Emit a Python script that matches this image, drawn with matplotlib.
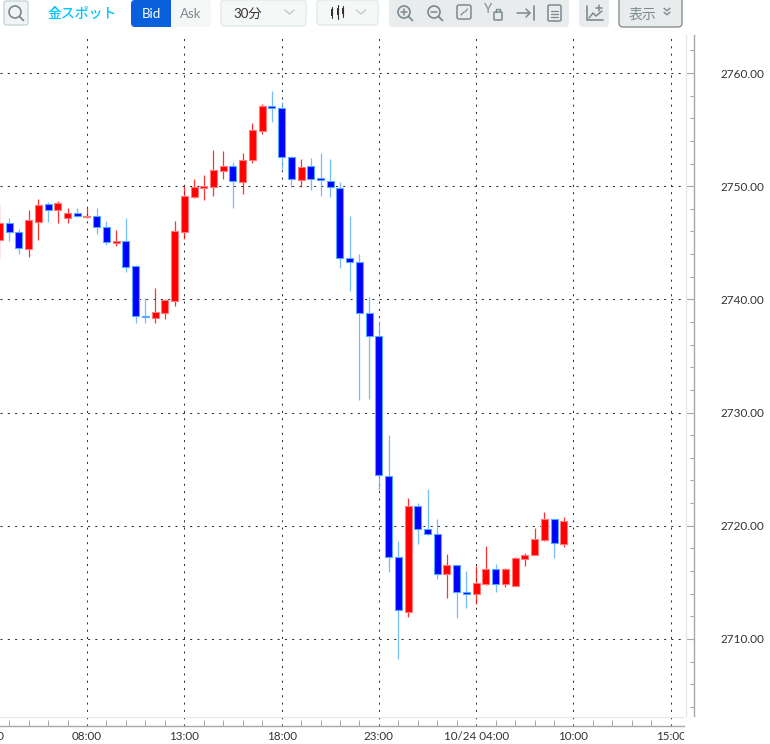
import matplotlib
matplotlib.use('Agg')
import matplotlib.pyplot as plt
from matplotlib.patches import FancyBboxPatch, Circle, Rectangle
from matplotlib.ticker import FixedLocator, NullFormatter

plt.rcParams['font.family'] = ['Lato', 'Noto Sans CJK JP', 'DejaVu Sans']

# 30 minute candles
opens = [2745.25, 2746.72, 2745.93, 2744.48, 2746.84, 2748.40, 2747.87, 2747.16, 2747.60, 2747.28,
         2747.34, 2746.43, 2745.02, 2745.13, 2742.93, 2738.55, 2738.37, 2738.84, 2739.90, 2745.99,
         2749.08, 2749.87, 2749.96, 2751.34, 2751.76, 2750.37, 2752.34, 2754.88, 2757.06, 2756.88,
         2752.55, 2750.58, 2751.76, 2750.70, 2750.49, 2749.81, 2743.66, 2743.28, 2738.77, 2736.77,
         2724.43, 2717.22, 2712.42, 2721.75, 2719.75, 2719.28, 2715.77, 2716.54, 2714.18, 2713.95,
         2714.89, 2716.15, 2714.83, 2714.71, 2717.04, 2717.39, 2718.72, 2720.63, 2718.42]
closes = [2746.78, 2745.93, 2744.54, 2747.04, 2748.34, 2747.93, 2748.49, 2747.66, 2747.34, 2747.37,
          2746.43, 2745.04, 2745.16, 2742.87, 2738.55, 2738.43, 2738.90, 2739.96, 2746.05, 2749.17,
          2749.93, 2750.05, 2751.43, 2751.78, 2750.49, 2752.31, 2754.96, 2757.11, 2756.88, 2752.55,
          2750.61, 2751.70, 2750.67, 2750.52, 2749.90, 2743.66, 2743.28, 2738.77, 2736.80, 2724.46,
          2717.22, 2712.59, 2721.75, 2719.75, 2719.28, 2715.71, 2716.57, 2714.12, 2714.01, 2714.95,
          2716.15, 2714.83, 2716.15, 2717.13, 2717.39, 2718.81, 2720.63, 2718.48, 2720.40]
highs = [2748.34, 2747.22, 2746.19, 2747.90, 2748.84, 2748.60, 2748.69, 2748.07, 2748.07, 2748.04,
         2748.04, 2746.93, 2746.13, 2747.16, 2743.07, 2740.11, 2741.05, 2740.02, 2746.96, 2750.02,
         2750.61, 2750.99, 2753.17, 2753.14, 2752.11, 2752.90, 2755.55, 2757.23, 2758.41, 2757.47,
         2752.70, 2752.37, 2752.49, 2752.90, 2752.37, 2750.40, 2747.37, 2743.98, 2740.18, 2738.09,
         2727.99, 2718.66, 2722.43, 2721.99, 2723.22, 2720.57, 2717.51, 2716.57, 2716.01, 2716.45,
         2718.22, 2716.63, 2716.24, 2717.27, 2717.60, 2719.78, 2721.25, 2720.63, 2720.78]
lows = [2743.54, 2745.16, 2744.01, 2743.72, 2745.25, 2746.87, 2746.78, 2746.78, 2747.25, 2747.16,
        2745.78, 2744.84, 2744.72, 2742.43, 2737.90, 2737.90, 2737.90, 2738.25, 2739.43, 2745.31,
        2748.93, 2748.75, 2749.16, 2750.64, 2748.10, 2749.28, 2752.02, 2754.64, 2755.70, 2751.46,
        2749.90, 2749.96, 2749.66, 2749.16, 2749.08, 2742.81, 2740.75, 2731.12, 2731.17, 2723.16,
        2715.89, 2708.20, 2711.97, 2718.42, 2719.20, 2715.33, 2713.62, 2711.89, 2712.71, 2713.09,
        2714.74, 2714.12, 2714.62, 2714.71, 2716.48, 2717.39, 2718.69, 2717.19, 2718.16]

time_ticks = [9, 19, 29, 39, 49, 59, 69]
time_labels = ['08:00', '13:00', '18:00', '23:00', '10/24 04:00', '10:00', '15:00']
first_time_tick, first_time_label = -1, '03:00'  # only its last digit shows at the left edge
minor_time_ticks = [i for i in range(1, 70, 2) if i not in time_ticks]
price_ticks = [2710, 2720, 2730, 2740, 2750, 2760]
minor_price_ticks = [p for p in range(2704, 2764, 2) if p not in price_ticks]

W, H = 770, 744
RED, BLUE = '#ff0000', '#0000ff'
RED_EDGE, BLUE_EDGE = '#ff7a7a', '#55aaff'
TXT = '#333333'
AXC = '#a8a8a8'
ICON = '#7d8a8f'

fig = plt.figure(figsize=(W / 100, H / 100), dpi=100, facecolor='white')

# chart axes: x 0..684 px, y 35..726 px
ax = fig.add_axes([0, (H - 726) / H, 684 / W, (726 - 35) / H])
ax.set_xlim(0.059, 70.36)
ax.set_ylim(2702.31, 2763.36)
ax.set_zorder(2)

for s in ['top', 'left']:
    ax.spines[s].set_visible(False)
ax.spines['bottom'].set_color(AXC)
ax.spines['bottom'].set_linewidth(1.0)
ax.spines['right'].set_position(('outward', 7.2))
ax.spines['right'].set_color(AXC)
ax.spines['right'].set_linewidth(1.0)
ax.spines['right'].set_bounds(2703.2, 2763.36)

ax.yaxis.tick_right()
ax.xaxis.set_major_locator(FixedLocator(time_ticks))
ax.set_xticklabels(time_labels)
ax.xaxis.set_minor_locator(FixedLocator(minor_time_ticks))
ax.xaxis.set_minor_formatter(NullFormatter())
ax.yaxis.set_major_locator(FixedLocator(price_ticks))
ax.set_yticklabels(['%.2f' % p for p in price_ticks])
ax.yaxis.set_minor_locator(FixedLocator(minor_price_ticks))
ax.yaxis.set_minor_formatter(NullFormatter())
ax.tick_params(axis='x', which='major', direction='in', length=0, pad=3.5, labelsize=8.4, labelcolor=TXT)
ax.tick_params(axis='x', which='minor', direction='in', length=4, width=0.7, color=AXC)
ax.tick_params(axis='y', which='major', direction='in', length=6, width=0.8, color=AXC, pad=19,
               labelsize=8.5, labelcolor=TXT)
ax.tick_params(axis='y', which='minor', direction='in', length=3, width=0.8, color=AXC)

for lab in ax.get_yticklabels():
    lab.set_verticalalignment('center_baseline')

# x labels are cut at the end of the time axis
clip = Rectangle((0, 0), 684, 40, transform=None)
for lab in ax.get_xticklabels():
    lab.set_clip_on(True)
    lab.set_clip_path(clip)

ax.annotate(first_time_label, (first_time_tick, 0), xycoords=ax.get_xaxis_transform(), xytext=(0, -3.5),
            textcoords='offset points', ha='center', va='top', fontsize=8.4, color=TXT,
            annotation_clip=False)

ax.grid(True, which='major', color='#333333', linewidth=0.75, linestyle=(0, (2, 5)), zorder=1)
ax.set_axisbelow(True)
ax.axhline(2703.1, color='#e8e8e8', linewidth=0.9, zorder=1)

xs = list(range(len(opens)))
for i in xs:
    up = closes[i] >= opens[i]
    body = RED if up else BLUE
    edge = RED_EDGE if up else BLUE_EDGE
    ax.vlines(i, lows[i], highs[i], color=RED if up else BLUE_EDGE, linewidth=0.9, alpha=0.8, zorder=3)
    ax.bar(i, abs(closes[i] - opens[i]), bottom=min(opens[i], closes[i]), width=0.72,
           color=body, edgecolor=edge, linewidth=0.8, zorder=4)

# toolbar and the light separator, drawn in pixel coordinates
top = fig.add_axes([0, 0, 1, 1], facecolor='none')
top.set_xlim(0, W)
top.set_ylim(H, 0)
top.axis('off')
top.set_zorder(3)


def box(x0, y0, x1, y1, face, edge='none', lw=1.0, r=4):
    p = FancyBboxPatch((x0 + r, y0 + r), x1 - x0 - 2 * r, y1 - y0 - 2 * r,
                       boxstyle='round,pad=%g,rounding_size=%g' % (r, r),
                       facecolor=face, edgecolor=edge, linewidth=lw)
    top.add_patch(p)


def stroke(xs, ys, color=ICON, lw=1.1):
    top.plot(xs, ys, color=color, linewidth=lw, solid_capstyle='round')


def chevron(cx, cy, color='#c4c9cb', w=4.5, h=4):
    stroke([cx - w, cx, cx + w], [cy - h / 2, cy + h / 2, cy - h / 2], color=color, lw=1.0)


def lens(cx, cy, sign=None):
    top.add_patch(Circle((cx, cy), 6, facecolor='none', edgecolor=ICON, linewidth=1.2))
    stroke([cx + 4.5, cx + 8.5], [cy + 4.5, cy + 8.5], lw=1.3)
    if sign:
        stroke([cx - 3, cx + 3], [cy, cy], lw=1.1)
    if sign == '+':
        stroke([cx, cx], [cy - 3, cy + 3], lw=1.1)


top.plot([686, 686], [35, 716], color='#e6e6e6', linewidth=0.9)

box(4, 1, 28, 25, '#f1f4f4', '#c9d6d6', 1.0, 2)
lens(15, 12)
top.text(82, 13.5, '金スポット', color='#00c8ff', fontsize=10, ha='center', va='center', weight='medium')

box(131, 0, 211, 27, '#f5f6f6', r=4)
box(131, 0, 171, 27, '#0a5fdc', r=4)
top.add_patch(Rectangle((165, 0), 6, 27, facecolor='#0a5fdc', edgecolor='none'))
top.text(151, 13.5, 'Bid', color='white', fontsize=9.5, ha='center', va='center')
top.text(191, 13.5, 'Ask', color='#808890', fontsize=9.5, ha='center', va='center')

box(221, 0, 306, 26, '#f6f7f7', '#e2e9e9', 1.0, 4)
top.text(233, 13.5, '30分', color=TXT, fontsize=9.5, ha='left', va='center')
chevron(289.5, 12)

box(317, 0, 378, 25, '#f6f7f7', '#e2e9e9', 1.0, 4)
for cx, y0, y1, b0, b1, c in [(332, 7, 18, 9, 16, '#333333'), (338, 5, 19, 8, 15, '#333333'),
                              (343, 6, 17, 8, 14, '#333333')]:
    stroke([cx, cx], [y0, y1], color=c, lw=0.8)
    top.add_patch(Rectangle((cx - 1.3, b0), 2.6, b1 - b0, facecolor=c, edgecolor='none'))
chevron(361, 12)

box(389, -3, 569, 27, '#e8ecec', r=4)
lens(404, 12, '+')
lens(434, 12, '-')
box(457, 5, 471, 19, 'none', ICON, 1.1, 2)
stroke([461, 464], [15, 12], lw=0.9)
stroke([465, 467.5], [12, 9], lw=0.9)
top.text(488, 9, 'Y', color=ICON, fontsize=9.5, ha='center', va='center')
box(494, 12, 502, 20, 'none', ICON, 1.1, 1)
stroke([496, 496, 500, 500], [12, 9, 9, 12], lw=1.0)
stroke([517, 530], [13, 13])
stroke([526, 530, 526], [9, 13, 17])
stroke([534, 534], [6, 20], lw=1.2)
box(548, 5, 561, 21, 'none', ICON, 1.1, 1.5)
for y in [11, 14, 17]:
    stroke([551, 558], [y, y], lw=0.9)

box(579, -3, 609, 27, '#e8ecec', r=4)
stroke([587, 587, 603], [6, 20, 20], lw=1.2)
stroke([589, 593, 596, 602], [18, 13, 16, 11], lw=1.1)
stroke([596, 602], [8, 8], lw=1.1)
stroke([599, 599], [5, 11], lw=1.1)

box(619, -3, 682, 27, '#e8ecec', '#8a9090', 1.0, 4)
top.text(642, 13.5, '表示', color=ICON, fontsize=10, ha='center', va='center')
chevron(667, 9.5, color=ICON, w=3, h=2.5)
chevron(667, 13.5, color=ICON, w=3, h=2.5)

fig.savefig('out.png', dpi=100)
